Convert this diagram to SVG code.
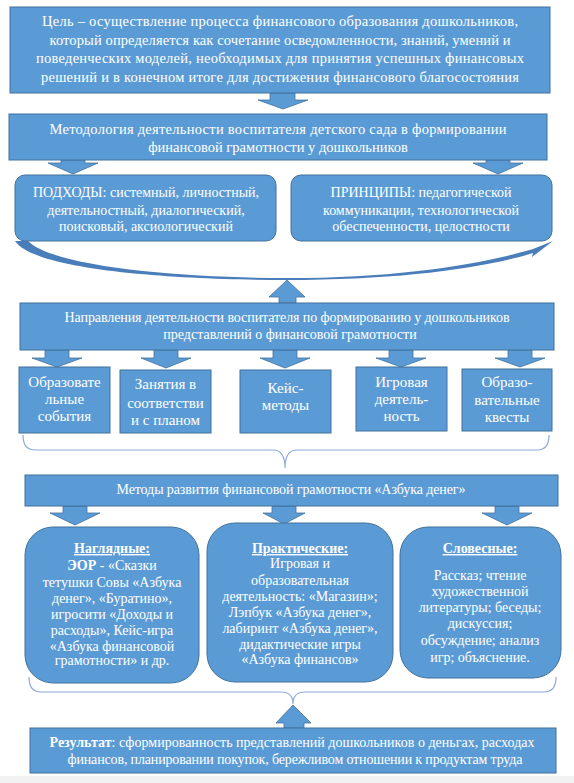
<svg xmlns="http://www.w3.org/2000/svg" width="574" height="783" viewBox="0 0 574 783">
<style>
.box{fill:#5B9BD5;stroke:#41719C;stroke-width:1}
.arr{fill:#5B9BD5;stroke:#41719C;stroke-width:0.8}
.brace{fill:none;stroke:#8FAADC;stroke-width:1.2}
.lbl{fill:#FFFFFF;text-anchor:middle}
.t15{font-size:14.5px}
.t14{font-size:14px}
.sm{font-size:15px}
.b{font-weight:bold}
.u{text-decoration:underline}
</style>
<rect x="0" y="0" width="574" height="783" fill="#FFFFFF"/>
<rect x="0" y="776" width="574" height="7" fill="#F2F2F2"/>

<g id="connectors">
  <polygon class="arr" points="270,93 295,93 295,100 308,100 283,109 258,100 270,100"/>
  <polygon class="arr" points="61,160 85,160 85,163 98,163 73,174 48,163 61,163"/>
  <polygon class="arr" points="486,160 510,160 510,163 523,163 498,174 473,163 486,163"/>
  <path fill="#4A7EBB" d="M15,241 C35,271 180,280 287,280 C400,280 485,268 533,253 L532,257 L553,241 L533,249 C482,264 400,278 287,278 C190,278 55,268 28,241 Z"/>
  <polygon class="arr" points="287,280 305,297 296,297 296,303 279,303 279,297 269,297"/>
  <polygon class="arr" points="45,350 69,350 69,358 82,358 57,367 32,358 45,358"/>
  <polygon class="arr" points="154,350 178,350 178,358 191,358 166,368 141,358 154,358"/>
  <polygon class="arr" points="273,350 297,350 297,358 310,358 285,368 260,358 273,358"/>
  <polygon class="arr" points="389,350 413,350 413,358 426,358 401,367 376,358 389,358"/>
  <polygon class="arr" points="508,350 532,350 532,358 545,358 520,367 495,358 508,358"/>
  <path class="brace" d="M23,435 Q23,450 35,450 L273,450 Q285,450 285,468 Q285,450 297,450 L537,450 Q549,450 549,435"/>
  <polygon class="arr" points="63,506 87,506 87,513 100,513 75,525 50,513 63,513"/>
  <polygon class="arr" points="272,506 296,506 296,513 305,513 284,524 263,513 272,513"/>
  <polygon class="arr" points="495,506 519,506 519,513 532,513 507,525 482,513 495,513"/>
  <path class="brace" d="M29,677 Q29,692 41,692 L281,692 Q293,692 293,704 Q293,692 305,692 L544,692 Q556,692 556,677"/>
  <polygon class="arr" points="293,705 311,723 304,723 304,728 284,728 284,723 276,723"/>
</g>

<g id="goal" style="font-family:'Liberation Serif',serif">
  <rect class="box" x="10" y="7" width="540" height="86"/>
  <text class="lbl t15" x="280" y="26" textLength="476">Цель – осуществление процесса финансового образования дошкольников,</text>
  <text class="lbl t15" x="280" y="45" textLength="461">который определяется  как сочетание осведомленности, знаний, умений и</text>
  <text class="lbl t15" x="280" y="63" textLength="488">поведенческих моделей, необходимых для принятия успешных финансовых</text>
  <text class="lbl t15" x="280" y="82" textLength="478">решений и в конечном итоге для достижения финансового благосостояния</text>
</g>

<g id="methodology" style="font-family:'Liberation Serif',serif">
  <rect class="box" x="9" y="114" width="538" height="46"/>
  <text class="lbl t15" x="278" y="134" textLength="457">Методология деятельности воспитателя детского сада в формировании</text>
  <text class="lbl t15" x="278" y="152">финансовой грамотности у дошкольников</text>
</g>

<g id="approaches" style="font-family:'Liberation Serif',serif">
  <rect class="box" x="15" y="175" width="261" height="66" rx="10"/>
  <text class="lbl t14" x="146" y="197">ПОДХОДЫ:  системный, личностный,</text>
  <text class="lbl t14" x="146" y="215">деятельностный, диалогический,</text>
  <text class="lbl t14" x="146" y="231">поисковый, аксиологический</text>
</g>

<g id="principles" style="font-family:'Liberation Serif',serif">
  <rect class="box" x="291" y="175" width="261" height="66" rx="10"/>
  <text class="lbl t14" x="421" y="197">ПРИНЦИПЫ:  педагогической</text>
  <text class="lbl t14" x="421" y="215">коммуникации, технологической</text>
  <text class="lbl t14" x="421" y="231">обеспеченности, целостности</text>
</g>

<g id="directions" style="font-family:'Liberation Serif',serif">
  <rect class="box" x="20" y="303" width="534" height="47"/>
  <text class="lbl t14" x="287" y="322" textLength="445">Направления деятельности воспитателя по формированию у дошкольников</text>
  <text class="lbl t14" x="290" y="339">представлений о финансовой грамотности</text>
</g>

<g id="events" style="font-family:'Liberation Serif',serif">
  <rect class="box" x="19" y="367" width="91" height="66"/>
  <text class="lbl sm" x="64.5" y="387">Образовате</text>
  <text class="lbl sm" x="64.5" y="404">льные</text>
  <text class="lbl sm" x="64.5" y="421">события</text>
</g>
<g id="lessons" style="font-family:'Liberation Serif',serif">
  <rect class="box" x="120" y="370" width="91" height="63"/>
  <text class="lbl sm" x="165.5" y="389">Занятия в</text>
  <text class="lbl sm" x="165.5" y="408">соответстви</text>
  <text class="lbl sm" x="165.5" y="425">и с планом</text>
</g>
<g id="cases" style="font-family:'Liberation Serif',serif">
  <rect class="box" x="240" y="370" width="91" height="63"/>
  <text class="lbl sm" x="285.5" y="393">Кейс-</text>
  <text class="lbl sm" x="285.5" y="410">методы</text>
</g>
<g id="play" style="font-family:'Liberation Serif',serif">
  <rect class="box" x="356" y="367" width="91" height="64"/>
  <text class="lbl sm" x="401.5" y="387">Игровая</text>
  <text class="lbl sm" x="401.5" y="404">деятель-</text>
  <text class="lbl sm" x="401.5" y="421">ность</text>
</g>
<g id="quests" style="font-family:'Liberation Serif',serif">
  <rect class="box" x="462" y="369" width="90" height="62"/>
  <text class="lbl sm" x="507" y="387">Образо-</text>
  <text class="lbl sm" x="507" y="405">вательные</text>
  <text class="lbl sm" x="507" y="422">квесты</text>
</g>

<g id="methods" style="font-family:'Liberation Serif',serif">
  <rect class="box" x="25" y="475" width="533" height="31"/>
  <text class="lbl t14" x="291" y="494" textLength="349">Методы развития финансовой грамотности «Азбука денег»</text>
</g>

<g id="visual" style="font-family:'Liberation Serif',serif">
  <rect class="box" x="25" y="527" width="174" height="156" rx="28"/>
  <text class="lbl t14 b u" x="112" y="553">Наглядные:</text>
  <text class="lbl t14" x="112" y="570"><tspan class="b">ЭОР</tspan> - «Сказки</text>
  <text class="lbl t14" x="112" y="587">тетушки Совы «Азбука</text>
  <text class="lbl t14" x="112" y="603">денег», «Буратино»,</text>
  <text class="lbl t14" x="112" y="619">игросити «Доходы и</text>
  <text class="lbl t14" x="112" y="635">расходы», Кейс-игра</text>
  <text class="lbl t14" x="112" y="651">«Азбука финансовой</text>
  <text class="lbl t14" x="112" y="665">грамотности» и др.</text>
</g>

<g id="practical" style="font-family:'Liberation Serif',serif">
  <rect class="box" x="207" y="523" width="186" height="159" rx="28"/>
  <text class="lbl t14 b u" x="300" y="553">Практические:</text>
  <text class="lbl t14" x="300" y="568">Игровая и</text>
  <text class="lbl t14" x="300" y="585">образовательная</text>
  <text class="lbl t14" x="300" y="601">деятельность: «Магазин»;</text>
  <text class="lbl t14" x="300" y="617">Лэпбук «Азбука денег»,</text>
  <text class="lbl t14" x="300" y="633">лабиринт «Азбука денег»,</text>
  <text class="lbl t14" x="300" y="649">дидактические игры</text>
  <text class="lbl t14" x="300" y="664">«Азбука финансов»</text>
</g>

<g id="verbal" style="font-family:'Liberation Serif',serif">
  <rect class="box" x="400" y="527" width="161" height="151" rx="28"/>
  <text class="lbl t14 b u" x="480" y="553">Словесные:</text>
  <text class="lbl t14" x="480" y="580">Рассказ; чтение</text>
  <text class="lbl t14" x="480" y="596">художественной</text>
  <text class="lbl t14" x="480" y="612">литературы; беседы;</text>
  <text class="lbl t14" x="480" y="628">дискуссия;</text>
  <text class="lbl t14" x="480" y="645">обсуждение; анализ</text>
  <text class="lbl t14" x="480" y="662">игр; объяснение.</text>
</g>

<g id="result" style="font-family:'Liberation Serif',serif">
  <rect class="box" x="30" y="728" width="526" height="45"/>
  <text class="lbl t14" x="292" y="747" textLength="485"><tspan class="b">Результат</tspan>: сформированность представлений дошкольников о деньгах, расходах</text>
  <text class="lbl t14" x="295" y="764" textLength="455">финансов, планировании покупок, бережливом отношении к  продуктам труда</text>
</g>
</svg>
